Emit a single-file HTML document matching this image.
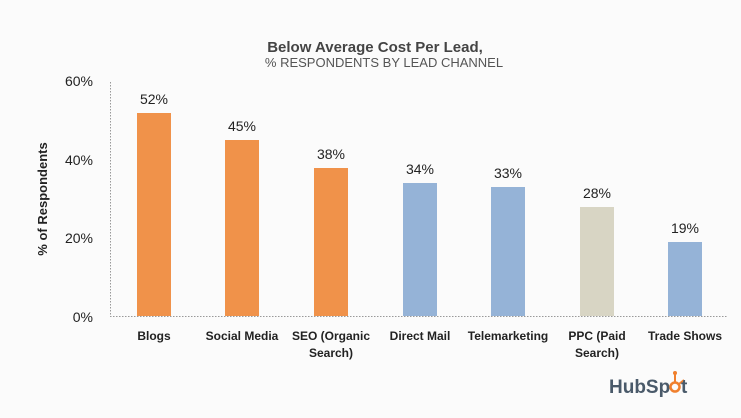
<!DOCTYPE html>
<html><head><style>
html,body{margin:0;padding:0;background:#fbfbfb;}
svg{display:block;}
text{font-family:"Liberation Sans",sans-serif;fill:#222;}
</style></head><body>
<svg width="741" height="418" viewBox="0 0 741 418">
<rect width="741" height="418" fill="#fbfbfb"/>
<text x="375" y="52" text-anchor="middle" font-size="15" font-weight="bold" fill="#444" style="fill:#444">Below Average Cost Per Lead,</text>
<text x="384" y="67" text-anchor="middle" font-size="13" style="fill:#555">% RESPONDENTS BY LEAD CHANNEL</text>
<line x1="110.5" y1="82" x2="110.5" y2="316" stroke="#999" stroke-dasharray="1.5,1.5"/>
<line x1="110" y1="316.5" x2="728" y2="316.5" stroke="#999" stroke-dasharray="1.5,1.5"/>
<g font-size="14" text-anchor="end">
<text x="93" y="86">60%</text><text x="93" y="165">40%</text><text x="93" y="243">20%</text><text x="93" y="322">0%</text>
</g>
<text transform="translate(47,199) rotate(-90)" text-anchor="middle" font-size="13" font-weight="bold">% of Respondents</text>
<g>
<rect x="137" y="113" width="34" height="203" fill="#F0924A"/>
<rect x="225" y="140" width="34" height="176" fill="#F0924A"/>
<rect x="314" y="168" width="34" height="148" fill="#F0924A"/>
<rect x="403" y="183" width="34" height="133" fill="#95B3D7"/>
<rect x="491" y="187" width="34" height="129" fill="#95B3D7"/>
<rect x="580" y="207" width="34" height="109" fill="#D8D5C4"/>
<rect x="668" y="242" width="34" height="74" fill="#95B3D7"/>
</g>
<g font-size="14" text-anchor="middle">
<text x="154" y="104">52%</text>
<text x="242" y="131">45%</text>
<text x="331" y="159">38%</text>
<text x="420" y="174">34%</text>
<text x="508" y="178">33%</text>
<text x="597" y="198">28%</text>
<text x="685" y="233">19%</text>
</g>
<g font-size="12" font-weight="bold" text-anchor="middle">
<text x="154" y="340">Blogs</text>
<text x="242" y="340">Social Media</text>
<text x="331" y="340">SEO (Organic</text>
<text x="331" y="357">Search)</text>
<text x="420" y="340">Direct Mail</text>
<text x="508" y="340">Telemarketing</text>
<text x="597" y="340">PPC (Paid</text>
<text x="597" y="357">Search)</text>
<text x="685" y="340">Trade Shows</text>
</g>
<text x="609" y="393" font-size="19" font-weight="bold" style="fill:#4a5a6a">HubSp</text>
<circle cx="675" cy="387" r="4.5" fill="none" stroke="#F0802E" stroke-width="2.5"/>
<line x1="675" y1="382" x2="675" y2="374" stroke="#F0802E" stroke-width="2"/>
<circle cx="675" cy="373" r="2" fill="#F0802E"/>
<line x1="679" y1="384" x2="684" y2="380" stroke="#F0802E" stroke-width="2"/>
<text x="681" y="393" font-size="19" font-weight="bold" style="fill:#4a5a6a">t</text>
</svg>
</body></html>
